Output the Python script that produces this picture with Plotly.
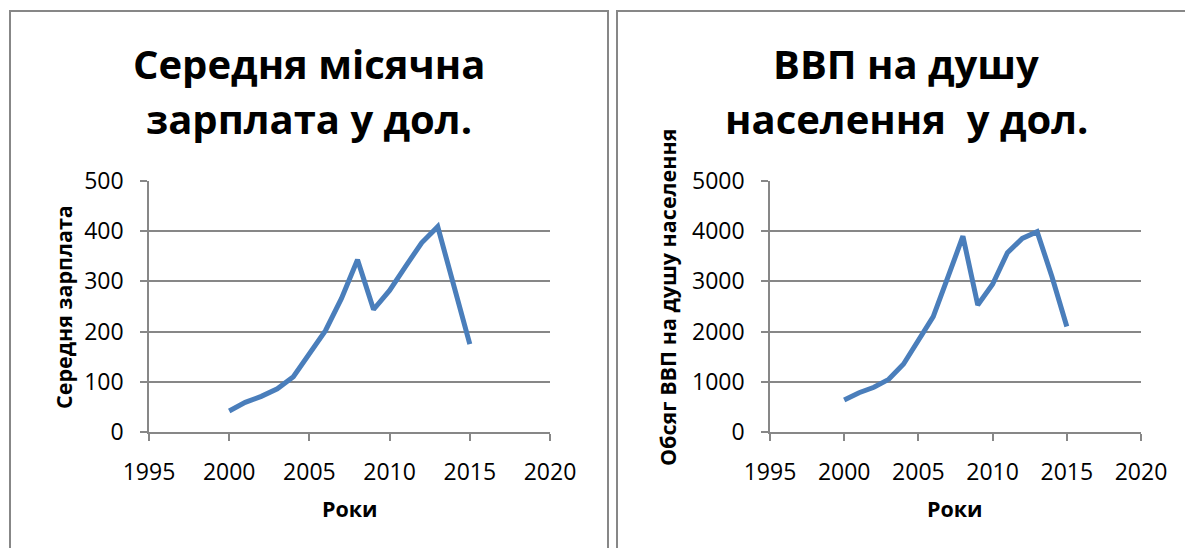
import plotly.graph_objects as go

years = list(range(2000, 2016))
salary = [42, 59, 71, 86, 110, 157, 202, 266, 343, 244, 282, 330, 377, 409, 292, 175]
gdp = [637, 783, 890, 1049, 1355, 1833, 2297, 3094, 3900, 2530, 2942, 3572, 3857, 3990, 3094, 2100]

x_ticks = [1995, 2000, 2005, 2010, 2015, 2020]
salary_ticks = [0, 100, 200, 300, 400, 500]
gdp_ticks = [0, 1000, 2000, 3000, 4000, 5000]

title_left = ["Середня місячна", "зарплата у дол."]
title_right = ["ВВП на душу", "населення  у дол."]
xlabel = "Роки"
ylabel_left = "Середня зарплата"
ylabel_right = "Обсяг ВВП на душу населення"

W, H = 1185, 548
LINE = "#4A7EBB"
GRID = "#878787"
FONT = "Open Sans"

def px(x):
    return x / W

def py(y):
    return 1 - y / H

fig = go.Figure()
fig.add_trace(go.Scatter(x=years, y=salary, mode="lines", xaxis="x", yaxis="y",
                         line=dict(color=LINE, width=5), showlegend=False))
fig.add_trace(go.Scatter(x=years, y=gdp, mode="lines", xaxis="x2", yaxis="y2",
                         line=dict(color=LINE, width=5), showlegend=False))

axis_common = dict(showline=True, linecolor=GRID, linewidth=1.5, ticks="outside",
                   tickcolor=GRID, ticklen=7, tickwidth=1.5, automargin=False,
                   tickfont=dict(family=FONT, size=23, color="black"))

fig.update_layout(
    width=W, height=H,
    margin=dict(l=0, r=0, t=0, b=0, pad=0, autoexpand=False),
    paper_bgcolor="white", plot_bgcolor="white",
    xaxis=dict(domain=[px(149), px(550)], range=[1995, 2020], tickvals=x_ticks,
               showgrid=False, zeroline=False, anchor="y", ticklabelstandoff=12,
               **axis_common),
    yaxis=dict(domain=[py(432), py(181)], range=[0, 500], tickvals=salary_ticks,
               showgrid=True, gridcolor=GRID, gridwidth=1.5, zeroline=False,
               anchor="x", ticklabelstandoff=12, **axis_common),
    xaxis2=dict(domain=[px(770), px(1141)], range=[1995, 2020], tickvals=x_ticks,
                showgrid=False, zeroline=False, anchor="y2", ticklabelstandoff=12,
                **axis_common),
    yaxis2=dict(domain=[py(432), py(181)], range=[0, 5000], tickvals=gdp_ticks,
                showgrid=True, gridcolor=GRID, gridwidth=1.5, zeroline=False,
                anchor="x2", ticklabelstandoff=12, **axis_common),
)

# frames around each chart
fig.add_shape(type="rect", xref="paper", yref="paper",
              x0=px(10), x1=px(608), y0=py(570), y1=py(11),
              line=dict(color=GRID, width=2), fillcolor="rgba(0,0,0,0)", layer="below")
fig.add_shape(type="rect", xref="paper", yref="paper",
              x0=px(617), x1=px(1200), y0=py(570), y1=py(11),
              line=dict(color=GRID, width=2), fillcolor="rgba(0,0,0,0)", layer="below")

title_font = dict(family=FONT, size=40, color="black", weight="bold")
ann = []
for cx, lines in ((309, title_left), (906, title_right)):
    for i, (t, cy) in enumerate(zip(lines, (63, 118))):
        ann.append(dict(text=t, x=px(cx), y=py(cy), xref="paper", yref="paper",
                        xanchor="center", yanchor="middle", showarrow=False,
                        font=title_font))

lab_font = dict(family=FONT, size=21.5, color="black", weight="bold")
ann.append(dict(text=xlabel, x=px(350), y=py(508), xref="paper", yref="paper",
                xanchor="center", yanchor="middle", showarrow=False, font=lab_font))
ann.append(dict(text=xlabel, x=px(955), y=py(508), xref="paper", yref="paper",
                xanchor="center", yanchor="middle", showarrow=False, font=lab_font))
ann.append(dict(text=ylabel_left, x=px(63), y=py(307), xref="paper", yref="paper",
                xanchor="center", yanchor="middle", showarrow=False, textangle=-90,
                font=lab_font))
ann.append(dict(text=ylabel_right, x=px(668), y=py(298), xref="paper", yref="paper",
                xanchor="center", yanchor="middle", showarrow=False, textangle=-90,
                font=lab_font))
fig.update_layout(annotations=ann)

fig.write_html("out.html", config={"displayModeBar": False},
               post_script="document.body.style.margin='0';document.body.style.overflow='hidden';")
